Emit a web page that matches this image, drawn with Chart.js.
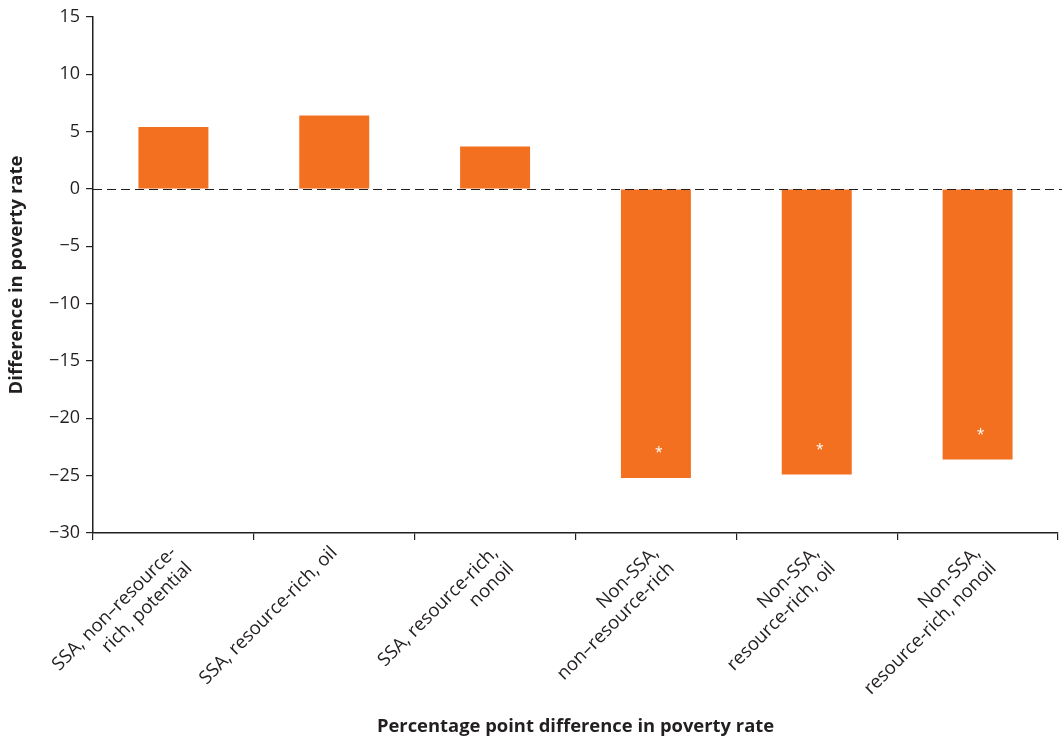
<!DOCTYPE html>
<html><head><meta charset="utf-8">
<script src="https://cdn.jsdelivr.net/npm/chart.js@4/dist/chart.umd.min.js"></script>
<style>html,body{margin:0;padding:0;background:#fff}#wrap{width:1062px;height:740px;position:relative}</style>
</head><body><div id="wrap"><canvas id="c"></canvas></div>
<script>
const categories = [
  ["SSA, non\u2013resource-", "rich, potential"],
  ["SSA, resource-rich, oil"],
  ["SSA, resource-rich,", "nonoil"],
  ["Non-SSA,", "non\u2013resource-rich"],
  ["Non-SSA,", "resource-rich, oil"],
  ["Non-SSA,", "resource-rich, nonoil"]
];
const povertyDiff = [5.4, 6.4, 3.7, -25.2, -24.9, -23.6];
const significant = [false, false, false, true, true, true];
const yTicks = [-30, -25, -20, -15, -10, -5, 0, 5, 10, 15];

const FONT = "'Open Sans', 'Noto Sans', sans-serif";
const INK = '#231f20';
const ORANGE = '#f37021';

const zeroLinePlugin = {
  id: 'zeroLine',
  afterDatasetsDraw(chart) {
    const {ctx, chartArea, scales} = chart;
    const y = Math.round(scales.y.getPixelForValue(0)) + 0.5;
    ctx.save();
    ctx.strokeStyle = INK;
    ctx.lineWidth = 1.2;
    ctx.setLineDash([9, 5]);
    ctx.beginPath();
    ctx.moveTo(chartArea.left, y);
    ctx.lineTo(chartArea.right + 4, y);
    ctx.stroke();
    ctx.restore();
    // significance asterisks
    const meta = chart.getDatasetMeta(0);
    ctx.save();
    ctx.fillStyle = '#ffffff';
    ctx.font = '14px ' + FONT;
    ctx.textAlign = 'center';
    ctx.textBaseline = 'middle';
    meta.data.forEach((bar, i) => {
      if (!significant[i]) return;
      const dir = povertyDiff[i] < 0 ? -1 : 1;
      ctx.fillText('*', bar.x + 3, bar.y + dir * 25);
    });
    ctx.restore();
  }
};

new Chart(document.getElementById('c'), {
  type: 'bar',
  data: {
    labels: categories,
    datasets: [{
      data: povertyDiff,
      backgroundColor: ORANGE,
      borderWidth: 0,
      barPercentage: 0.435,
      categoryPercentage: 1
    }]
  },
  options: {
    responsive: true,
    maintainAspectRatio: false,
    animation: false,
    devicePixelRatio: 1,
    layout: { padding: { top: 17, right: 4, left: 0, bottom: 0 } },
    plugins: { legend: { display: false }, tooltip: { enabled: false } },
    scales: {
      x: {
        afterFit(s) { s.height = 207; },
        grid: { display: true, drawOnChartArea: false, offset: true, color: INK, tickLength: 7, lineWidth: 1.2 },
        border: { display: true, color: INK, width: 1.5 },
        ticks: {
          autoSkip: false, maxRotation: 45, minRotation: 45, padding: 2,
          color: INK, font: { family: FONT, size: 18.5 }
        },
        title: {
          display: true, text: 'Percentage point difference in poverty rate',
          color: INK, font: { family: FONT, size: 18.4, weight: 'bold' },
          padding: { top: 0, bottom: 2 }
        }
      },
      y: {
        min: -30, max: 15,
        afterFit(s) { s.width = 93; },
        afterBuildTicks(s) { s.ticks = yTicks.map(v => ({ value: v })); },
        grid: { display: true, drawOnChartArea: false, color: INK, tickLength: 7, lineWidth: 1.2 },
        border: { display: true, color: INK, width: 1.5 },
        ticks: {
          padding: 6, color: INK, font: { family: FONT, size: 18 },
          callback: v => String(v).replace('-', '\u2212')
        },
        title: {
          display: true, text: 'Difference in poverty rate',
          color: INK, font: { family: FONT, size: 18.5, weight: 'bold' },
          padding: { top: 6, bottom: 0 }
        }
      }
    }
  },
  plugins: [zeroLinePlugin]
});
</script>
</body></html>
